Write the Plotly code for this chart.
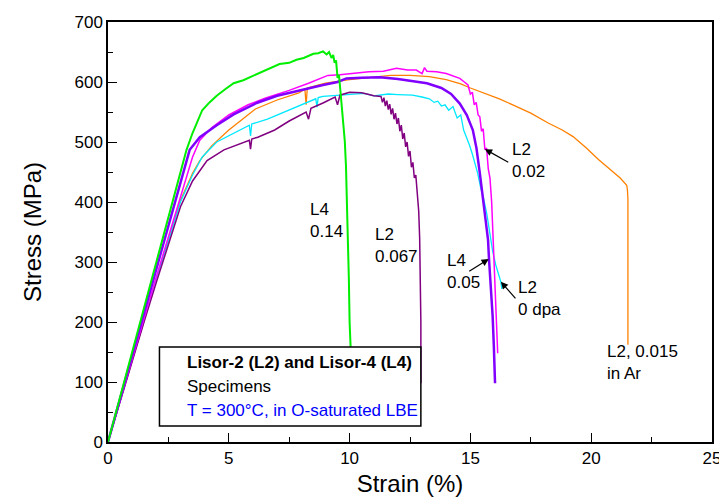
import plotly.graph_objects as go

# ---------------- data ----------------
green_x = [0, 0.5, 1.0, 1.5, 2.0, 2.5, 3.0, 3.25, 3.5, 3.7, 3.9, 4.2, 4.5, 4.85, 5.2, 5.6, 6.0, 6.5, 7.1, 7.5, 7.8, 8.1, 8.5, 8.7, 8.9, 9.05, 9.15, 9.25, 9.32, 9.38, 9.44, 9.5, 9.56, 9.62, 9.67, 9.72, 9.8, 9.85, 9.88, 9.93, 9.97, 10.0, 10.05]
green_y = [0, 75, 150, 225, 300, 375, 450, 487, 515, 535, 553, 566, 577, 588, 598, 603, 610, 620, 630, 632, 637, 640, 647, 648, 651, 646, 650, 640, 645, 632, 636, 607, 612, 585, 563, 545, 502, 460, 420, 337, 270, 200, 150]

violet_x = [0, 0.5, 1.0, 1.5, 2.0, 2.5, 3.0, 3.38, 3.8, 4.5, 5.2, 6.15, 7.0, 8.0, 8.9, 9.5, 9.87, 10.5, 11.25, 12.0, 12.6, 13.2, 13.8, 14.2, 14.56, 14.85, 15.1, 15.25, 15.39, 15.55, 15.73, 15.77, 15.85, 15.92, 15.97, 16.0, 16.02]
violet_y = [0, 72, 144, 216, 288, 360, 432, 487, 508, 528, 546, 565, 577, 587, 595, 600, 606, 607, 608, 605, 602, 598, 590, 580, 564, 545, 520, 490, 448, 395, 337, 305, 260, 210, 160, 120, 98]

magenta_x = [0, 0.5, 1.0, 1.5, 2.0, 2.5, 3.0, 3.5, 3.8, 4.3, 5.0, 5.8, 6.5, 7.5, 8.3, 9.1, 9.6, 10.2, 10.8, 11.4, 11.94, 12.4, 12.76, 13.0, 13.1, 13.2, 13.6, 14.0, 14.3, 14.56, 14.75, 14.9, 15.0, 15.08, 15.16, 15.24, 15.32, 15.39, 15.46, 15.53, 15.6, 15.67, 15.74, 15.81, 15.88, 15.94, 16.0, 16.05, 16.1, 16.13]
magenta_y = [0, 70, 139, 207, 275, 342, 410, 475, 503, 524, 545, 562, 573, 586, 598, 611, 612, 615, 617, 618, 623, 620, 620, 614, 624, 618, 617, 614, 610, 606, 600, 595, 580, 583, 562, 566, 545, 542, 518, 522, 487, 490, 455, 440, 400, 337, 290, 230, 170, 148]

orange_x = [0, 0.5, 1.0, 1.5, 2.0, 2.5, 3.0, 3.5, 3.8, 4.3, 5.0, 5.5, 6.1, 7.0, 7.9, 8.15, 8.2, 8.25, 9.0, 10.0, 10.8, 11.7, 12.5, 13.3, 14.0, 14.6, 15.0, 15.5, 16.2, 16.8, 17.5, 18.2, 18.8, 19.25, 19.8, 20.3, 20.8, 21.2, 21.47, 21.5, 21.52, 21.52]
orange_y = [0, 69, 137, 205, 272, 338, 403, 448, 469, 494, 520, 536, 555, 570, 582, 588, 562, 590, 598, 604, 607, 611, 611, 609, 604, 597, 590, 582, 572, 561, 548, 532, 520, 509, 490, 471, 453, 440, 428, 420, 405, 162]

cyan_x = [0, 0.5, 1.0, 1.5, 2.0, 2.5, 3.0, 3.5, 3.9, 4.5, 5.2, 5.85, 5.9, 5.95, 6.6, 7.3, 8.0, 8.6, 8.65, 8.7, 8.9, 9.5, 10.0, 10.6, 11.0, 11.6, 12.0, 12.6, 13.0, 13.3, 13.5, 13.65, 13.8, 13.95, 14.1, 14.28, 14.45, 14.6, 14.72, 14.84, 14.96, 15.08, 15.2, 15.3, 15.42, 15.55, 15.68, 15.8, 15.92, 16.05, 16.15, 16.26, 16.3]
cyan_y = [0, 69, 137, 204, 271, 337, 400, 445, 475, 500, 515, 528, 510, 530, 538, 550, 563, 572, 558, 574, 576, 578, 580, 581, 577, 580, 579, 578, 575, 572, 566, 568, 560, 562, 553, 559, 540, 545, 520, 509, 495, 480, 462, 448, 425, 405, 380, 350, 318, 295, 280, 267, 255]

purple_x = [0, 0.5, 1.0, 1.5, 2.0, 2.5, 3.0, 3.5, 4.1, 4.8, 5.5, 5.85, 5.9, 5.95, 6.2, 6.9, 7.5, 8.2, 8.3, 8.4, 8.9, 9.4, 9.5, 9.6, 10.0, 10.5, 10.8, 11.0,
            11.30, 11.36, 11.42, 11.48, 11.54, 11.60, 11.66, 11.72, 11.78, 11.84, 11.90, 11.96, 12.02, 12.08, 12.14, 12.20, 12.26, 12.32, 12.38, 12.44, 12.50, 12.56, 12.62, 12.68, 12.74, 12.80, 12.86, 12.90, 12.93, 12.95, 12.95]
purple_y = [0, 68, 135, 201, 266, 330, 392, 435, 469, 487, 498, 503, 488, 505, 508, 520, 535, 550, 538, 556, 565, 575, 562, 578, 583, 582, 579, 577,
            576, 566, 574, 560, 569, 554, 563, 546, 556, 538, 548, 530, 540, 518, 528, 505, 515, 492, 500, 476, 485, 458, 466, 440, 445, 415, 385, 340, 280, 200, 98]

x_ticks = [0, 5, 10, 15, 20, 25]
y_ticks = [0, 100, 200, 300, 400, 500, 600, 700]

legend_lines = ["Lisor-2 (L2) and Lisor-4 (L4)", "Specimens", "T = 300°C, in O-saturated LBE"]

# ---------------- figure ----------------
FONT = "Liberation Sans, Arial, sans-serif"
fig = go.Figure()

series = [
    (orange_x, orange_y, "#ff8000", 1.3, "L2, 0.015 in Ar"),
    (cyan_x, cyan_y, "#00e8ff", 1.3, "L2 0 dpa"),
    (purple_x, purple_y, "#800080", 1.5, "L2 0.067"),
    (magenta_x, magenta_y, "#ff00ff", 1.5, "L2 0.02"),
    (violet_x, violet_y, "#8000ff", 2.5, "L4 0.05"),
    (green_x, green_y, "#00ee00", 2.0, "L4 0.14"),
]
for xs, ys, col, w, name in series:
    fig.add_trace(go.Scatter(x=xs, y=ys, mode="lines", name=name,
                             line=dict(color=col, width=w), showlegend=False))

# legend-like box
fig.add_shape(type="rect", xref="x", yref="y", x0=2.13, x1=12.95, y0=26.7, y1=158.3,
              line=dict(color="black", width=1.5), fillcolor="white", layer="above")
leg_y = [131.7, 91.7, 53.3]
leg_fmt = [dict(color="black", bold=True), dict(color="black", bold=False), dict(color="#0000ff", bold=False)]
for txt, yy, fm in zip(legend_lines, leg_y, leg_fmt):
    fig.add_annotation(x=3.17, y=yy, xref="x", yref="y", text=("<b>%s</b>" % txt) if fm["bold"] else txt,
                       showarrow=False, xanchor="left", yanchor="middle",
                       font=dict(family=FONT, size=17, color=fm["color"]))

# curve labels
labels = [
    ("L4<br>0.14", 8.26, 369),
    ("L2<br>0.067", 10.96, 328),
    ("L2<br>0.02", 16.63, 470),
    ("L4<br>0.05", 13.94, 284),
    ("L2<br>0 dpa", 16.88, 239),
    ("L2, 0.015<br>in Ar", 20.57, 132),
]
for txt, xx, yy in labels:
    fig.add_annotation(x=xx, y=yy, xref="x", yref="y", text=txt, showarrow=False,
                       xanchor="left", yanchor="middle", align="left",
                       font=dict(family=FONT, size=17, color="black"))

arrows = [
    (15.60, 488, 16.63, 465),
    (15.76, 305, 14.89, 283),
    (16.26, 267, 16.92, 237),
]
for tx, ty, sx, sy in arrows:
    fig.add_annotation(x=tx, y=ty, ax=sx, ay=sy, xref="x", yref="y", axref="x", ayref="y",
                       text="", showarrow=True, arrowhead=2, arrowsize=1.2, arrowwidth=1.2,
                       arrowcolor="black", standoff=0, startstandoff=0)

axis_common = dict(showgrid=False, zeroline=False, showline=True, linecolor="black", linewidth=1.5,
                   mirror=True, ticks="inside", ticklen=9, tickwidth=1.3, tickcolor="black",
                   tickfont=dict(family=FONT, size=17, color="black"))

fig.update_xaxes(range=[0, 25], tickvals=x_ticks, ticktext=[str(v) for v in x_ticks],
                 minor=dict(ticks="inside", ticklen=5, tickwidth=1.3, tickcolor="black", dtick=2.5),
                 title=dict(text="Strain (%)", font=dict(family=FONT, size=24, color="black"), standoff=8),
                 **axis_common)
fig.update_yaxes(range=[0, 700], tickvals=y_ticks, ticktext=[str(v) for v in y_ticks],
                 minor=dict(ticks="inside", ticklen=5, tickwidth=1.3, tickcolor="black", dtick=50),
                 title=dict(text="Stress (MPa)", font=dict(family=FONT, size=24, color="black"), standoff=26),
                 **axis_common)

# the page body has an 8px default margin, so the figure is shifted by 8px; compensate
fig.update_layout(width=719, height=494, margin=dict(l=100, r=15, t=14, b=60, autoexpand=False),
                  plot_bgcolor="white", paper_bgcolor="white", showlegend=False,
                  font=dict(family=FONT, color="black"))

fig.write_html("out.html")
